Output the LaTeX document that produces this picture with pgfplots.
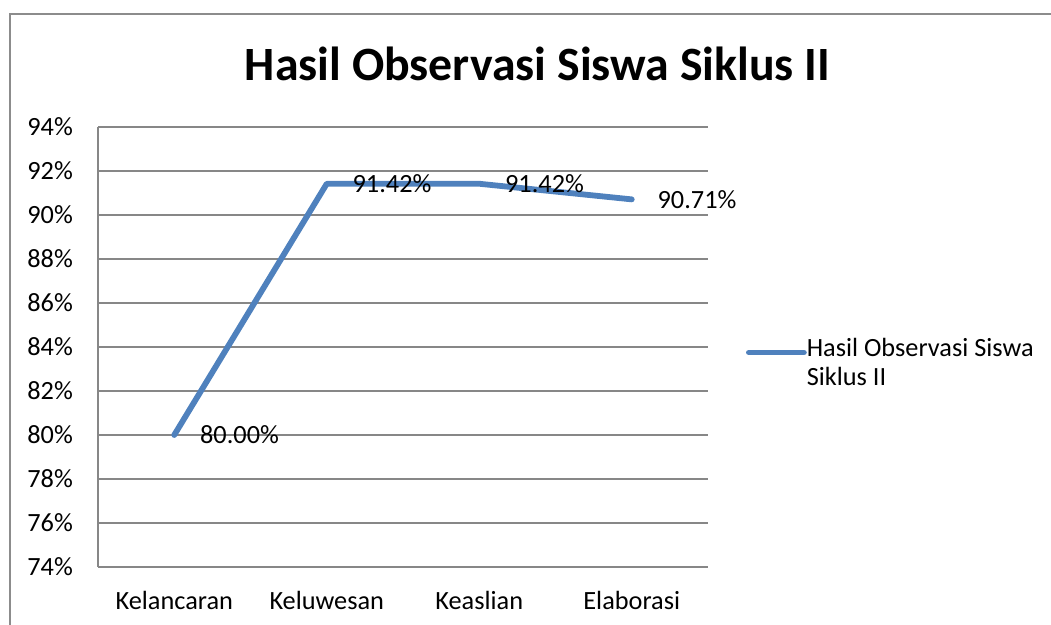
\documentclass[border=0pt]{standalone}
\usepackage{fontspec}
\setmainfont{Carlito}
\usepackage{pgfplots}
\pgfplotsset{compat=1.18}
\definecolor{gridgray}{HTML}{878787}
\definecolor{framegray}{HTML}{8C8C8C}
\definecolor{serblue}{HTML}{4F81BD}
\begin{document}
\begin{tikzpicture}[x=1pt,y=1pt]
\useasboundingbox (0,0) rectangle (1051,624);
\draw[framegray, line width=1.4pt] (10,-5) -- (10,610) -- (1060,610);
\node[font=\fontsize{47.8}{56}\selectfont\bfseries, anchor=base, inner sep=0pt] at (537.5,543) {Hasil Observasi Siswa Siklus II};
\begin{axis}[
  at={(98pt,57pt)}, anchor=south west,
  width=610pt, height=440pt, scale only axis,
  xmin=-0.5, xmax=3.5, ymin=74, ymax=94,
  xtick={0,1,2,3},
  xticklabels={Kelancaran,Keluwesan,Keaslian,Elaborasi},
  ytick={74,76,...,94},
  yticklabel={\pgfmathprintnumber{\tick}\%},
  /pgf/number format/assume math mode=true,
  major tick length=0pt,
  ymajorgrids,
  grid style={gridgray, line width=1.3pt},
  axis lines*=left,
  axis line style={gridgray, line width=1.3pt, -},
  ticklabel style={font=\fontsize{26.3}{31}\selectfont},
  yticklabel style={anchor=east, inner sep=0pt, xshift=-25pt},
  xticklabel style={anchor=base, inner sep=0pt, yshift=-42pt},
  clip=false,
  legend style={at={(1.0623,0.4636)}, anchor=west, draw=none, fill=none,
    inner sep=0pt, outer sep=0pt, font=\fontsize{26.3}{29}\selectfont,
    nodes={inner sep=0pt, align=left},
    /tikz/every even column/.append style={column sep=3pt}},
  legend cell align=left,
  legend image code/.code={\draw[#1] (0pt,10.5pt) -- (55pt,10.5pt);},
]
\addplot[serblue, line width=5.8pt, line join=round, line cap=round, mark=none,
  nodes near coords={\pgfmathprintnumber[fixed,fixed zerofill,precision=2]{\pgfplotspointmeta}\%},
  every node near coord/.append style={anchor=west, xshift=23pt, inner sep=0pt,
    font=\fontsize{26.3}{31}\selectfont, text=black}]
  coordinates {(0,80.00) (1,91.42) (2,91.42) (3,90.71)};
\addlegendentry{Hasil Observasi Siswa\\Siklus II}
\end{axis}
\end{tikzpicture}
\end{document}
